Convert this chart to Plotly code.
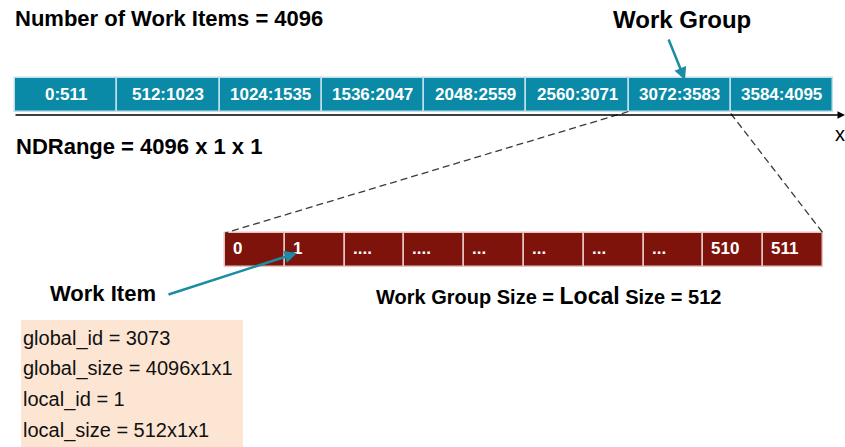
import plotly.graph_objects as go

# ---------------- data ----------------
total_items = 4096
group_size = 512
top_labels = ["0:511", "512:1023", "1024:1535", "1536:2047",
              "2048:2559", "2560:3071", "3072:3583", "3584:4095"]
bottom_labels = ["0", "1", "....", "....", "...", "...", "...", "...", "510", "511"]
info_lines = ["global_id = 3073", "global_size = 4096x1x1",
              "local_id = 1", "local_size = 512x1x1"]
highlight_group = 6   # the work group that is expanded
highlight_item = 1    # the work item pointed at

# ---------------- geometry / style ----------------
FONT = "Liberation Sans, Arial, sans-serif"
TEAL = "#0A8AA6"
ARROW = "#1B8CA3"
RED = "#7E130B"
PEACH = "#FCE6D3"

top_x0, top_x1, top_y0, top_y1 = 15, 833, 77.5, 111.5
bot_x0, bot_x1, bot_y0, bot_y1 = 225, 823, 233, 267

n_top = len(top_labels)
n_bot = len(bottom_labels)
tw = (top_x1 - top_x0) / n_top
bw = (bot_x1 - bot_x0) / n_bot

fig = go.Figure()

# top bar: work groups
fig.add_trace(go.Bar(
    orientation="h",
    y=[(top_y0 + top_y1) / 2] * n_top,
    x=[tw] * n_top,
    base=[top_x0 + i * tw for i in range(n_top)],
    width=top_y1 - top_y0,
    marker=dict(color=TEAL, line=dict(color="#BFE0EA", width=1.5)),
    hoverinfo="skip", showlegend=False,
))
# bottom bar: work items of one group
fig.add_trace(go.Bar(
    orientation="h",
    y=[(bot_y0 + bot_y1) / 2] * n_bot,
    x=[bw] * n_bot,
    base=[bot_x0 + i * bw for i in range(n_bot)],
    width=bot_y1 - bot_y0,
    marker=dict(color=RED, line=dict(color="#E8C4C0", width=1.5)),
    hoverinfo="skip", showlegend=False,
))

ann = []
for i, lab in enumerate(top_labels):
    ann.append(dict(x=top_x0 + (i + 0.5) * tw, y=(top_y0 + top_y1) / 2, text=f"<b>{lab}</b>",
                    showarrow=False, font=dict(family=FONT, size=17, color="white"),
                    xanchor="center", yanchor="middle"))
for i, lab in enumerate(bottom_labels):
    ann.append(dict(x=bot_x0 + i * bw + 6, y=(bot_y0 + bot_y1) / 2 - 2, text=f"<b>{lab}</b>",
                    showarrow=False, font=dict(family=FONT, size=17, color="white"),
                    xanchor="left", yanchor="middle"))

# headings
ann.append(dict(x=13, y=18, text=f"<b>Number of Work Items = {total_items}</b>", showarrow=False,
                font=dict(family=FONT, size=22, color="black"), xanchor="left", yanchor="middle"))
ann.append(dict(x=14, y=146, text=f"<b>NDRange = {total_items} x 1 x 1</b>", showarrow=False,
                font=dict(family=FONT, size=22, color="black"), xanchor="left", yanchor="middle"))
ann.append(dict(x=611, y=19, text="<b>Work Group</b>", showarrow=False,
                font=dict(family=FONT, size=24, color="black"), xanchor="left", yanchor="middle"))
ann.append(dict(x=48, y=293, text="<b>Work Item</b>", showarrow=False,
                font=dict(family=FONT, size=22, color="black"), xanchor="left", yanchor="middle"))
ann.append(dict(x=374, y=296,
                text=f"<b>Work Group Size = <span style='font-size:23px'>Local</span> Size = {group_size}</b>",
                showarrow=False, font=dict(family=FONT, size=20, color="black"),
                xanchor="left", yanchor="middle"))
ann.append(dict(x=833, y=134, text="x", showarrow=False,
                font=dict(family=FONT, size=20, color="black"), xanchor="left", yanchor="middle"))

# arrows
ann.append(dict(x=685, y=80, ax=668, ay=38, axref="x", ayref="y", xref="x", yref="y",
                text="", showarrow=True, arrowhead=2, arrowsize=1, arrowwidth=2.5, arrowcolor=ARROW))
ann.append(dict(x=297, y=253, ax=167, ay=295, axref="x", ayref="y", xref="x", yref="y",
                text="", showarrow=True, arrowhead=2, arrowsize=1, arrowwidth=2.5, arrowcolor=ARROW))
ann.append(dict(x=845, y=115, ax=14, ay=115, axref="x", ayref="y", xref="x", yref="y",
                text="", showarrow=True, arrowhead=2, arrowsize=1, arrowwidth=1.5, arrowcolor="black"))

# info box text
for k, line in enumerate(info_lines):
    ann.append(dict(x=21, y=338 + k * 30.7, text=line, showarrow=False,
                    font=dict(family=FONT, size=20, color="#111111"), xanchor="left", yanchor="middle"))

shapes = [
    dict(type="rect", xref="x", yref="y", x0=21, x1=243, y0=320, y1=447,
         fillcolor=PEACH, line=dict(width=0), layer="below"),
    dict(type="line", xref="x", yref="y", x0=top_x0 + highlight_group * tw, y0=top_y1,
         x1=bot_x0, y1=bot_y0, line=dict(color="#3a3a3a", width=1.3, dash="7px,4px")),
    dict(type="line", xref="x", yref="y", x0=top_x0 + (highlight_group + 1) * tw, y0=top_y1 + 2,
         x1=bot_x1, y1=bot_y0, line=dict(color="#3a3a3a", width=1.3, dash="7px,4px")),
]

fig.update_layout(
    width=845, height=447, autosize=False,
    margin=dict(l=0, r=0, t=0, b=0),
    paper_bgcolor="white", plot_bgcolor="white",
    barmode="overlay", bargap=0,
    xaxis=dict(range=[0, 845], visible=False, fixedrange=True),
    yaxis=dict(range=[447, 0], visible=False, fixedrange=True),
    annotations=ann, shapes=shapes, showlegend=False,
)

fig.write_html("out.html", config={"displayModeBar": False},
               post_script="document.body.style.margin='0';")
